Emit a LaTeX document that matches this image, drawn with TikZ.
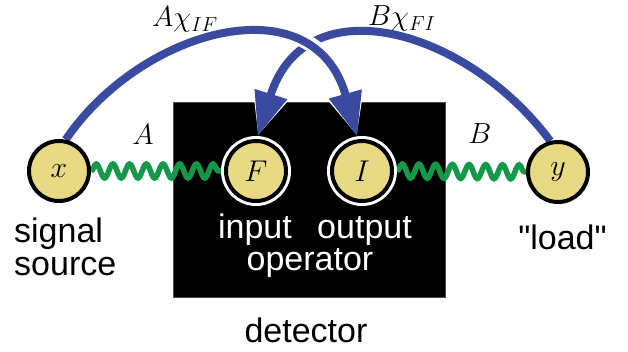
\RequirePackage{fix-cm}
\documentclass[tikz,border=0pt]{standalone}
\usepackage{fontspec}
\newfontfamily\lab{Liberation Sans}
\usetikzlibrary{arrows.meta,decorations.pathmorphing}
\definecolor{myblue}{HTML}{3A4A9F}
\definecolor{mygreen}{HTML}{12994A}
\definecolor{myyellow}{HTML}{E8D985}
\pgfdeclarelayer{bg}
\pgfdeclarelayer{mid}
\pgfsetlayers{bg,mid,main}
\begin{document}
\begin{tikzpicture}[x=1pt,y=-1pt,
  var/.style={circle, draw=black, line width=4pt, fill=myyellow, minimum size=60pt, inner sep=0pt, font=\fontsize{30}{30}\selectfont},
  ringvar/.style={var, outer sep=5pt, preaction={draw=white, line width=10pt}},
  lbl/.style={font=\lab\fontsize{34}{34}\selectfont, inner sep=0pt},
  mlbl/.style={font=\fontsize{29}{29}\selectfont, inner sep=0pt},
  wave/.style={draw=mygreen, line width=5.5pt, decorate, decoration={snake, segment length=16.7pt, amplitude=7pt}},
  arcarrow/.style={draw=myblue, line width=8pt, -{Triangle[length=44pt,width=32pt]}},
  halo/.style={draw=white, line width=#1, -{Triangle[length=47pt,width=37pt]}},
]
\useasboundingbox (0,0) rectangle (628,352);
\begin{pgfonlayer}{bg}
  \node[draw=black!70, fill=black, line width=1pt, minimum width=272pt, minimum height=194pt, inner sep=0pt] (box) at (309,200) {};
\end{pgfonlayer}
\node[var] (xn) at (59,171) {$x$};
\node[ringvar] (Fn) at (256,171) {$F$};
\node[ringvar] (In) at (362,171) {$I$};
\node[var] (yn) at (558,172) {$y$};
\node[lbl, anchor=base west] (sig) at (14,243) {signal};
\node[lbl, anchor=base west] (src) at (14,275) {source};
\node[lbl, anchor=base, text=white] (inp) at (255,239) {input};
\node[lbl, anchor=base, text=white] (outp) at (364.5,239) {output};
\node[lbl, anchor=base, text=white] (oper) at (310,270) {operator};
\node[lbl, anchor=base] (load) at (562.5,250) {"load"};
\node[lbl, anchor=base] (det) at (306,342) {detector};
\node[mlbl] (Al) at (143,135) {$A$};
\node[mlbl] (Bl) at (480,134) {$B$};
\node[mlbl, anchor=base west] (Achi) at (152,27) {$A\chi_{IF}$};
\node[mlbl, anchor=base west] (Bchi) at (368,26) {$B\chi_{FI}$};
\begin{pgfonlayer}{mid}
  \draw[wave] (xn.east) -- (Fn.west);
  \draw[wave] (In.east) -- (yn.west);
  \draw[halo=11pt] (yn.104) .. controls (466,28) and (305.4,-16.2) .. (Fn.87);
  \draw[arcarrow] (yn.104) .. controls (466,28) and (305.4,-16.2) .. (Fn.87);
  \draw[halo=15pt] (xn.78) .. controls (141.5,28.1) and (314,-18.1) .. (In.98);
  \draw[arcarrow] (xn.78) .. controls (141.5,28.1) and (314,-18.1) .. (In.98);
\end{pgfonlayer}
\end{tikzpicture}
\end{document}
